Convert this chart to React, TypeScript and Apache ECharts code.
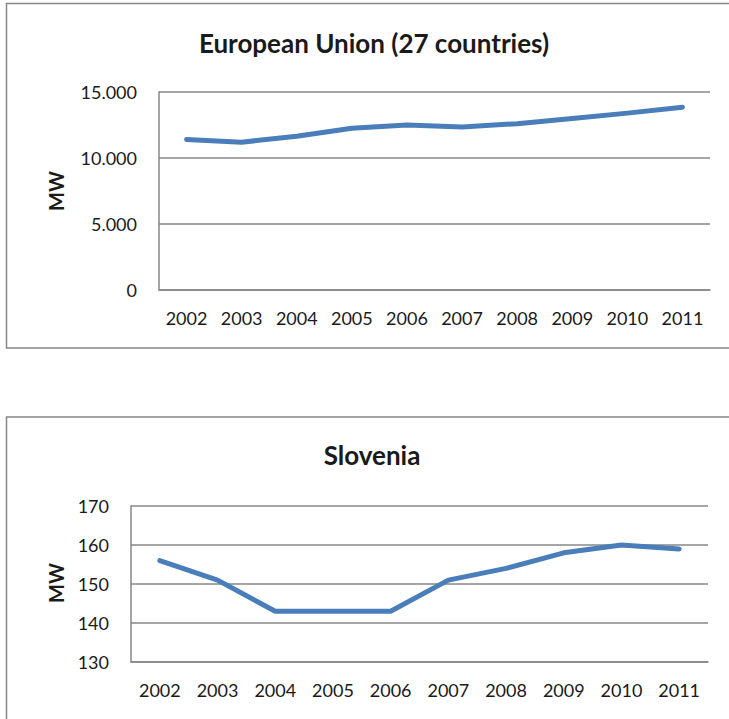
import React, { useEffect, useRef } from "react";
import * as echarts from "echarts";

const years = ["2002", "2003", "2004", "2005", "2006", "2007", "2008", "2009", "2010", "2011"];
const euValues = [11400, 11200, 11650, 12250, 12500, 12350, 12600, 13000, 13400, 13850];
const sloValues = [156, 151, 143, 143, 143, 151, 154, 158, 160, 159];
const euTitle = "European Union (27 countries)";
const sloTitle = "Slovenia";
const yName = "MW";

const FONT = "Lato, 'Liberation Sans', sans-serif";
const GRID_COLOR = "#878787";
const LINE_COLOR = "#4a7ebb";
const TEXT_COLOR = "#1a1a1a";

const fmtThousands = (v: number) =>
  String(v).replace(/\B(?=(\d{3})+(?!\d))/g, ".");

export default function App() {
  const ref = useRef<HTMLDivElement>(null);
  useEffect(() => {
    if (!ref.current) return;
    const chart = echarts.init(ref.current, null, { renderer: "svg" });
    const axisCommon = {
      axisLine: { show: true, lineStyle: { color: GRID_COLOR, width: 1.5 } },
      axisTick: { show: false },
    };
    chart.setOption({
      animation: false,
      backgroundColor: "#ffffff",
      grid: [
        { left: 159, right: 19, top: 92, height: 198 },
        { left: 131, right: 21, top: 506, height: 156 },
      ],
      xAxis: [0, 1].map((i) => ({
        type: "category",
        gridIndex: i,
        data: years,
        boundaryGap: true,
        ...axisCommon,
        axisLabel: { color: TEXT_COLOR, fontFamily: FONT, fontSize: 18, margin: 19 },
      })),
      yAxis: [
        {
          type: "value",
          gridIndex: 0,
          min: 0,
          max: 15000,
          interval: 5000,
          ...axisCommon,
          splitLine: { lineStyle: { color: GRID_COLOR, width: 1.5 } },
          axisLabel: {
            color: TEXT_COLOR,
            fontFamily: FONT,
            fontSize: 18,
            margin: 22,
            formatter: (v: number) => fmtThousands(v),
          },
        },
        {
          type: "value",
          gridIndex: 1,
          min: 130,
          max: 170,
          interval: 10,
          ...axisCommon,
          splitLine: { lineStyle: { color: GRID_COLOR, width: 1.5 } },
          axisLabel: { color: TEXT_COLOR, fontFamily: FONT, fontSize: 18, margin: 22 },
        },
      ],
      series: [
        {
          type: "line",
          xAxisIndex: 0,
          yAxisIndex: 0,
          data: euValues,
          symbol: "none",
          lineStyle: { color: LINE_COLOR, width: 5, cap: "round", join: "round" },
        },
        {
          type: "line",
          xAxisIndex: 1,
          yAxisIndex: 1,
          data: sloValues,
          symbol: "none",
          lineStyle: { color: LINE_COLOR, width: 5, cap: "round", join: "round" },
        },
      ],
      graphic: [
        {
          type: "rect",
          shape: { x: 6.5, y: 3.5, width: 740, height: 344.5 },
          style: { fill: "none", stroke: GRID_COLOR, lineWidth: 1.5 },
          silent: true,
        },
        {
          type: "rect",
          shape: { x: 6.5, y: 417, width: 740, height: 320 },
          style: { fill: "none", stroke: GRID_COLOR, lineWidth: 1.5 },
          silent: true,
        },
        {
          type: "text",
          x: 374,
          y: 43,
          style: {
            text: euTitle,
            fill: TEXT_COLOR,
            font: `bold 26px ${FONT}`,
            align: "center",
            verticalAlign: "middle",
          },
        },
        {
          type: "text",
          x: 372,
          y: 455,
          style: {
            text: sloTitle,
            fill: TEXT_COLOR,
            font: `bold 26px ${FONT}`,
            align: "center",
            verticalAlign: "middle",
          },
        },
        {
          type: "text",
          x: 56,
          y: 191,
          rotation: Math.PI / 2,
          style: {
            text: yName,
            fill: TEXT_COLOR,
            font: `bold 20px ${FONT}`,
            align: "center",
            verticalAlign: "middle",
          },
        },
        {
          type: "text",
          x: 56,
          y: 583,
          rotation: Math.PI / 2,
          style: {
            text: yName,
            fill: TEXT_COLOR,
            font: `bold 20px ${FONT}`,
            align: "center",
            verticalAlign: "middle",
          },
        },
      ],
    });
    return () => chart.dispose();
  }, []);
  return (
    <div
      ref={ref}
      style={{ position: "fixed", left: 0, top: 0, width: 729, height: 719 }}
    />
  );
}
